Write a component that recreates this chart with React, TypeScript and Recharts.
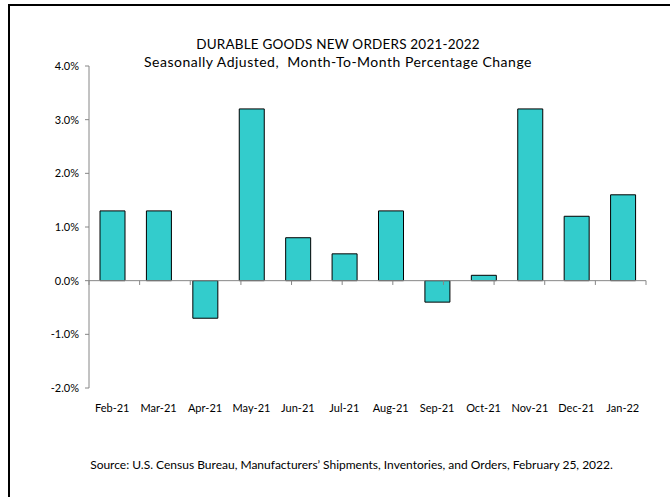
import { BarChart, Bar, XAxis, YAxis, ReferenceLine } from 'recharts';

const months = ['Feb-21', 'Mar-21', 'Apr-21', 'May-21', 'Jun-21', 'Jul-21', 'Aug-21', 'Sep-21', 'Oct-21', 'Nov-21', 'Dec-21', 'Jan-22'];
const changes = [1.3, 1.3, -0.7, 3.2, 0.8, 0.5, 1.3, -0.4, 0.1, 3.2, 1.2, 1.6];
const yTicks = [-2, -1, 0, 1, 2, 3, 4];
const boundaries = [0, 1, 2, 3, 4, 5, 6, 7, 8, 9, 10, 11, 12];

const data = months.map((month, i) => ({ month, change: changes[i] }));

const FONT = 'Lato, "Open Sans", sans-serif';
const AXIS_GRAY = '#868686';

export default function App() {
  return (
    <div style={{ position: 'relative', width: 670, height: 497, overflow: 'hidden', fontFamily: FONT }}>
      <style>{'body{margin:0;overflow:hidden;}'}</style>
      {/* frame: only the left and top edges fall inside the window */}
      <div
        style={{
          position: 'absolute', left: 8, top: 4, width: 700, height: 520,
          borderLeft: '2px solid #000', borderTop: '2px solid #000',
        }}
      />
      <div style={{ position: 'absolute', left: 0, width: 676, top: 35, textAlign: 'center', fontSize: 13.5, letterSpacing: 0.2, lineHeight: '18px' }}>
        DURABLE GOODS NEW ORDERS 2021-2022
      </div>
      <div style={{ position: 'absolute', left: 0, width: 676, top: 53, textAlign: 'center', fontSize: 14, letterSpacing: 0.5, lineHeight: '18px', whiteSpace: 'pre' }}>
        {'Seasonally Adjusted,  Month-To-Month Percentage Change'}
      </div>
      <div style={{ position: 'absolute', left: 0, width: 703, top: 457, textAlign: 'center', fontSize: 12, lineHeight: '16px' }}>
        Source: U.S. Census Bureau, Manufacturers’ Shipments, Inventories, and Orders, February 25, 2022.
      </div>
      <div style={{ position: 'absolute', left: 0, top: 0 }}>
        <BarChart
          width={670}
          height={497}
          data={data}
          margin={{ top: 66, right: 24, left: 39, bottom: 89 }}
          barSize={25}
        >
          <XAxis
            dataKey="month"
            axisLine={false}
            tickLine={false}
            tickMargin={10}
            height={20}
            interval={0}
            tick={{ fontSize: 11, fill: '#000', fontFamily: FONT }}
          />
          <XAxis xAxisId="edges" type="number" domain={[0, 12]} hide />
          <YAxis
            width={50}
            domain={[-2, 4]}
            ticks={yTicks}
            interval={0}
            tickFormatter={(v) => `${Number(v).toFixed(1)}%`}
            axisLine={{ stroke: AXIS_GRAY }}
            tickLine={{ stroke: AXIS_GRAY }}
            tickSize={4}
            tickMargin={6}
            tick={{ fontSize: 11, fill: '#000', fontFamily: FONT }}
          />
          <ReferenceLine y={0} stroke={AXIS_GRAY} strokeWidth={1} />
          {boundaries.map((b) => (
            <ReferenceLine
              key={b}
              xAxisId="edges"
              segment={[{ x: b, y: 0 }, { x: b, y: -0.08 }]}
              stroke={AXIS_GRAY}
            />
          ))}
          <Bar dataKey="change" fill="#33CCCC" stroke="#000" strokeWidth={1} isAnimationActive={false} />
        </BarChart>
      </div>
    </div>
  );
}
